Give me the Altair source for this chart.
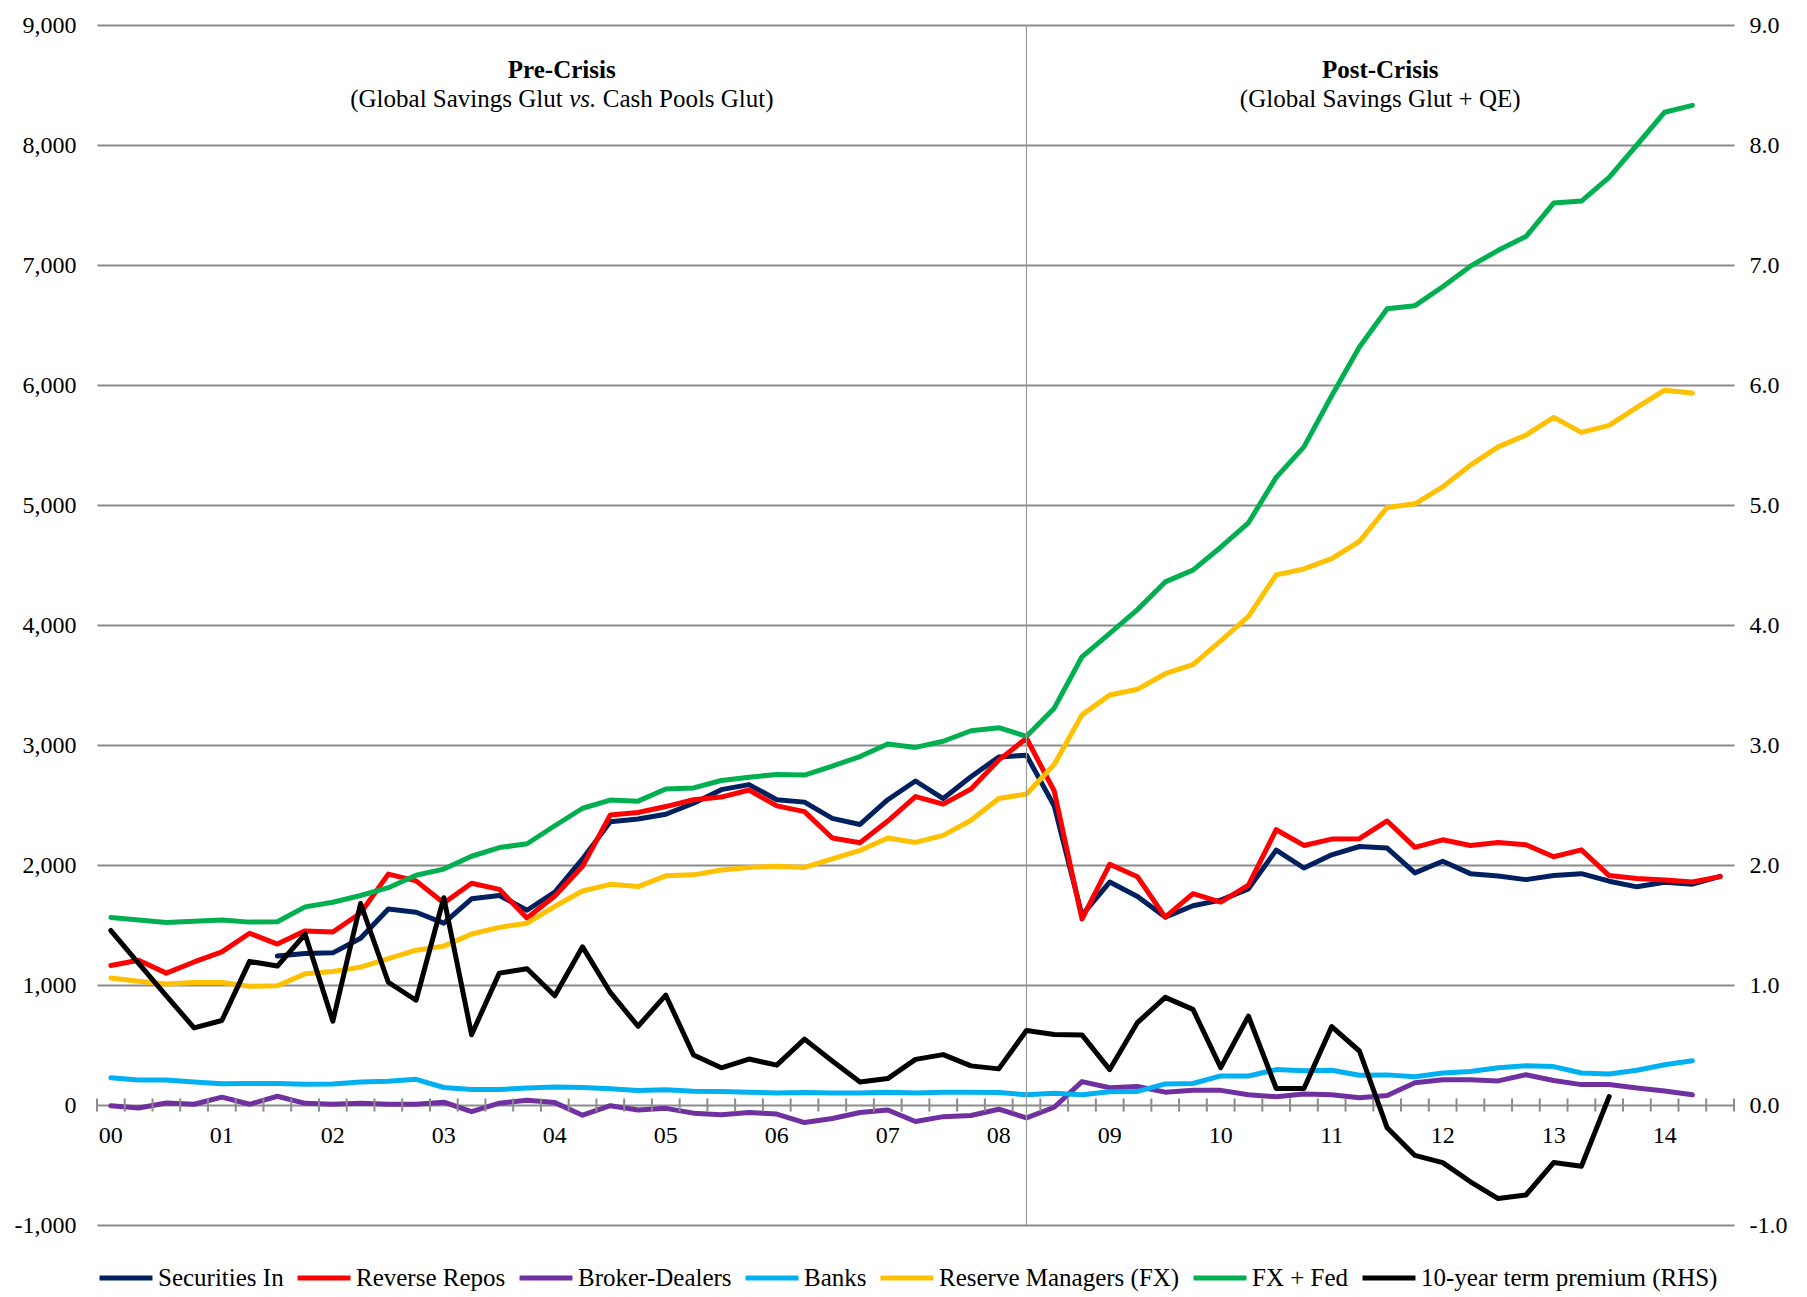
import altair as alt
import pandas as pd

# ---------------- data (quarterly, 2000Q1 .. 2014Q3) ----------------
year_labels = ["00", "01", "02", "03", "04", "05", "06", "07", "08", "09", "10", "11", "12", "13", "14"]
quarters = [f"20{y}Q{q}" for y in year_labels for q in (1, 2, 3, 4)][:59]

securities_in = [None, None, None, None, None, None,
                 1242, 1262, 1268, 1389, 1634, 1606, 1515, 1718, 1746, 1623, 1775, 2051, 2361, 2383,
                 2423, 2515, 2628, 2670, 2544, 2524, 2389, 2338, 2544, 2700, 2554, 2736, 2900, 2915,
                 2492, 1582, 1858, 1738, 1566, 1660, 1707, 1801, 2124, 1975, 2085, 2154, 2141, 1934,
                 2031, 1928, 1909, 1878, 1912, 1928, 1865, 1818, 1856, 1840, 1906]
reverse_repos = [1163, 1206, 1099, 1192, 1276, 1431, 1341, 1451, 1442, 1600,
                 1924, 1868, 1684, 1848, 1797, 1558, 1741, 1989, 2417, 2437,
                 2487, 2544, 2566, 2625, 2493, 2445, 2225, 2186, 2366, 2570,
                 2507, 2633, 2874, 3056, 2617, 1550, 2006, 1902, 1566, 1761,
                 1691, 1832, 2294, 2163, 2216, 2219, 2367, 2147, 2210, 2163,
                 2188, 2169, 2069, 2126, 1912, 1887, 1875, 1859, 1903]
broker_dealers = [-6, -25, 17, 6, 65, 6, 73, 14, 6, 14,
                  6, 6, 23, -56, 15, 40, 20, -85, -6, -42,
                  -28, -68, -82, -62, -76, -146, -113, -62, -42, -138,
                  -97, -88, -35, -107, -19, 195, 144, 154, 107, 122,
                  122, 85, 69, 91, 85, 60, 79, 186, 211, 211,
                  201, 252, 204, 170, 170, 142, 116, 85]
banks = [228, 208, 208, 192, 177, 180, 180, 172, 175, 192,
         197, 214, 146, 130, 130, 141, 149, 146, 135, 121,
         127, 115, 113, 107, 101, 104, 101, 101, 107, 100,
         107, 107, 104, 85, 97, 85, 110, 113, 176, 179,
         242, 242, 295, 285, 289, 248, 251, 236, 267, 280,
         311, 327, 320, 267, 258, 289, 336, 368]
reserve_managers = [1059, 1031, 1008, 1020, 1020, 989, 994, 1093, 1113, 1149,
                    1220, 1290, 1324, 1425, 1480, 1515, 1656, 1783, 1839, 1820,
                    1910, 1918, 1958, 1980, 1989, 1980, 2051, 2121, 2225, 2188,
                    2247, 2373, 2554, 2592, 2837, 3251, 3417, 3464, 3594, 3670,
                    3868, 4072, 4418, 4467, 4553, 4697, 4980, 5010, 5151, 5332,
                    5484, 5582, 5730, 5605, 5664, 5813, 5957, 5934]
fx_fed = [1563, 1541, 1521, 1532, 1541, 1524, 1527, 1651, 1690, 1746,
          1811, 1915, 1966, 2073, 2145, 2177, 2327, 2473, 2541, 2532,
          2634, 2642, 2704, 2732, 2755, 2749, 2825, 2904, 3008, 2980,
          3031, 3119, 3144, 3072, 3307, 3735, 3930, 4128, 4359, 4457,
          4648, 4852, 5230, 5484, 5910, 6316, 6635, 6661, 6819, 6990,
          7122, 7237, 7516, 7533, 7730, 8000, 8273, 8330]
term_premium = [1.454, 1.18, 0.91, 0.642, 0.704, 1.197, 1.158, 1.423, 0.699, 1.679,
                1.023, 0.873, 1.727, 0.586, 1.099, 1.135, 0.910, 1.318, 0.938, 0.656,
                0.915, 0.417, 0.310, 0.383, 0.332, 0.549, 0.366, 0.192, 0.220, 0.380,
                0.420, 0.326, 0.301, 0.621, 0.587, 0.584, 0.295, 0.687, 0.897, 0.797,
                0.311, 0.741, 0.138, 0.138, 0.653, 0.45, -0.19, -0.42, -0.48, -0.64,
                -0.78, -0.75, -0.48, -0.51, 0.07]

series_names = ["Securities In", "Reverse Repos", "Broker-Dealers", "Banks",
                "Reserve Managers (FX)", "FX + Fed", "10-year term premium (RHS)"]
series_colors = ["#002060", "#ff0000", "#7030a0", "#00b0f0", "#ffc000", "#00b050", "#000000"]
left_series = [securities_in, reverse_repos, broker_dealers, banks, reserve_managers, fx_fed]

crisis_quarter = [33]
region_titles = ["Pre-Crisis", "Post-Crisis"]
region_centers = [16.25, 45.75]
post_subtitle = ["(Global Savings Glut + QE)"]

# ---------------- tables ----------------
rows = []
for name, vals in zip(series_names[:6], left_series):
    for i, v in enumerate(vals):
        if v is not None:
            rows.append({"q": i, "quarter": quarters[i], "value": v, "series": name})
left_df = pd.DataFrame(rows)
tp_df = pd.DataFrame([{"q": i, "quarter": quarters[i], "value": v, "series": series_names[6]}
                      for i, v in enumerate(term_premium)])
tick_df = pd.DataFrame({"b": [i - 0.5 for i in range(len(quarters) + 1)], "lo": -55, "hi": 55})
xlab_df = pd.DataFrame({"q": [4 * k for k in range(len(year_labels))], "v": -258, "t": year_labels})

FONT = "Liberation Serif"
GRID = "#8c8c8c"
W, H = 1637, 1200
LEFT_DOMAIN = [-1000, 9000]
LW = 5

x_scale = alt.Scale(domain=[-0.5, len(quarters) - 0.5], nice=False, zero=False)


def y_scale():
    return alt.Scale(domain=LEFT_DOMAIN, nice=False, zero=False)


color_scale = alt.Scale(domain=series_names, range=series_colors)

legend = alt.Legend(title=None, orient="bottom", direction="horizontal", symbolType="stroke",
                    symbolSize=2800, symbolStrokeWidth=5, labelFont=FONT, labelFontSize=25,
                    labelColor="black", labelLimit=0, columnPadding=3, labelOffset=3, offset=24)

y_axis_left = alt.Axis(orient="left", values=list(range(-1000, 9001, 1000)),
                       labelExpr="(datum.value < 0 ? '-' : '') + format(abs(datum.value), ',')",
                       grid=True, gridColor=GRID, gridWidth=2, domain=False, ticks=False,
                       labelPadding=21, labelFont=FONT, labelFontSize=24, labelColor="black", title=None)
y_axis_right = alt.Axis(orient="right", values=list(range(-1, 10)),
                        labelExpr="(datum.value < 0 ? '-' : '') + format(abs(datum.value), '.1f')",
                        grid=False, domain=False, ticks=False, labelPadding=15,
                        labelFont=FONT, labelFontSize=24, labelColor="black", title=None)

ticks = alt.Chart(tick_df).mark_rule(color=GRID, strokeWidth=2).encode(
    x=alt.X("b:Q", scale=x_scale, axis=None),
    y=alt.Y("lo:Q", scale=y_scale(), axis=None),
    y2="hi:Q",
)
crisis_rule = alt.Chart(pd.DataFrame({"q": crisis_quarter})).mark_rule(color="#999999", strokeWidth=1.2).encode(
    x=alt.X("q:Q", scale=x_scale, axis=None)
)
left_lines = alt.Chart(left_df).mark_line(strokeWidth=LW, strokeJoin="round", strokeCap="round").encode(
    x=alt.X("q:Q", scale=x_scale, axis=None),
    y=alt.Y("value:Q", scale=y_scale(), axis=y_axis_left),
    color=alt.Color("series:N", scale=color_scale, legend=legend, sort=series_names),
    order="q:Q",
)
xlabels = alt.Chart(xlab_df).mark_text(font=FONT, fontSize=24, color="black", baseline="middle",
                                       align="center").encode(
    x=alt.X("q:Q", scale=x_scale, axis=None), y=alt.Y("v:Q", scale=y_scale(), axis=None), text="t:N")

title_df = pd.DataFrame({"q": region_centers, "v": [8627, 8627], "t": region_titles})
titles = alt.Chart(title_df).mark_text(font=FONT, fontSize=25, fontWeight="bold", color="black",
                                       baseline="middle", align="center").encode(
    x=alt.X("q:Q", scale=x_scale, axis=None), y=alt.Y("v:Q", scale=y_scale(), axis=None), text="t:N")

sub_pre = pd.DataFrame({"q": [region_centers[0]], "v": [8385]})
sub_post = pd.DataFrame({"q": [region_centers[1]], "v": [8385], "t": post_subtitle})


def sub_text(df, text, align, dx, style="normal"):
    return alt.Chart(df).mark_text(font=FONT, fontSize=25, color="black", baseline="middle",
                                   align=align, dx=dx, fontStyle=style, text=text).encode(
        x=alt.X("q:Q", scale=x_scale, axis=None), y=alt.Y("v:Q", scale=y_scale(), axis=None))


sub1 = sub_text(sub_pre, "(Global Savings Glut", "right", 1)
sub2 = sub_text(sub_pre, "vs.", "center", 21, "italic")
sub3 = sub_text(sub_pre, "Cash Pools Glut)", "left", 41)
sub4 = alt.Chart(sub_post).mark_text(font=FONT, fontSize=25, color="black", baseline="middle",
                                     align="center").encode(
    x=alt.X("q:Q", scale=x_scale, axis=None), y=alt.Y("v:Q", scale=y_scale(), axis=None), text="t:N")

tp_line = alt.Chart(tp_df).mark_line(strokeWidth=LW, strokeJoin="round", strokeCap="round").encode(
    x=alt.X("q:Q", scale=x_scale, axis=None),
    y=alt.Y("value:Q", scale=alt.Scale(domain=[-1, 9], nice=False, zero=False), axis=y_axis_right),
    color=alt.Color("series:N", scale=color_scale, legend=legend, sort=series_names),
    order="q:Q",
)

chart = alt.layer(left_lines, ticks, crisis_rule, xlabels, titles, sub1, sub2, sub3, sub4, tp_line).resolve_scale(
    y="independent"
).properties(
    width=W, height=H, padding={"left": 6, "top": 5, "right": 5, "bottom": 5}
).configure_view(stroke=None)

chart.save("out.html", embed_options={"renderer": "svg", "actions": False})
